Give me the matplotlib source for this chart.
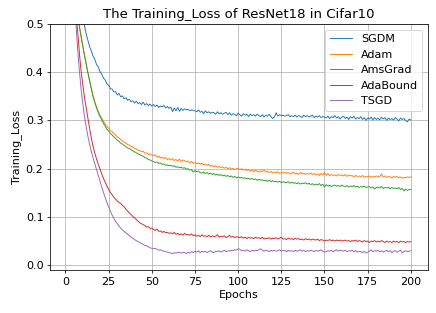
import numpy as np
import matplotlib
matplotlib.use("Agg")
import matplotlib.pyplot as plt

# training loss per epoch (1..200)
epochs = np.arange(1, 201)

sgdm = [
    1.55, 1.21, 1.01, 0.88, 0.78, 0.70, 0.645, 0.598, 0.558, 0.525,
    0.497, 0.479, 0.466, 0.453, 0.444, 0.433, 0.427, 0.416, 0.411, 0.401,
    0.396, 0.388, 0.384, 0.376, 0.373, 0.366, 0.365, 0.359, 0.360, 0.353,
    0.356, 0.349, 0.351, 0.345, 0.347, 0.342, 0.344, 0.339, 0.341, 0.336,
    0.340, 0.335, 0.337, 0.333, 0.338, 0.332, 0.335, 0.331, 0.334, 0.330,
    0.333, 0.329, 0.332, 0.327, 0.330, 0.328, 0.331, 0.326, 0.329, 0.325,
    0.328, 0.318, 0.326, 0.320, 0.327, 0.319, 0.325, 0.321, 0.324, 0.322,
    0.323, 0.320, 0.322, 0.321, 0.320, 0.318, 0.322, 0.317, 0.319, 0.314,
    0.320, 0.316, 0.318, 0.315, 0.317, 0.316, 0.313, 0.318, 0.314, 0.316,
    0.313, 0.315, 0.317, 0.312, 0.316, 0.311, 0.314, 0.313, 0.310, 0.315,
    0.312, 0.309, 0.314, 0.311, 0.313, 0.308, 0.313, 0.310, 0.312, 0.309,
    0.313, 0.310, 0.308, 0.312, 0.307, 0.311, 0.309, 0.313, 0.308, 0.304,
    0.307, 0.316, 0.309, 0.312, 0.310, 0.311, 0.309, 0.310, 0.312, 0.308,
    0.310, 0.308, 0.311, 0.307, 0.310, 0.309, 0.306, 0.311, 0.308, 0.310,
    0.307, 0.309, 0.311, 0.306, 0.309, 0.307, 0.310, 0.306, 0.308, 0.307,
    0.305, 0.309, 0.304, 0.308, 0.306, 0.310, 0.305, 0.308, 0.303, 0.307,
    0.309, 0.304, 0.307, 0.302, 0.308, 0.305, 0.309, 0.303, 0.306, 0.304,
    0.308, 0.302, 0.306, 0.300, 0.305, 0.303, 0.307, 0.301, 0.306, 0.302,
    0.305, 0.301, 0.307, 0.303, 0.306, 0.300, 0.305, 0.302, 0.304, 0.301,
    0.306, 0.303, 0.299, 0.305, 0.302, 0.304, 0.300, 0.297, 0.303, 0.301,
]

adam = [
    1.32, 1.01, 0.83, 0.71, 0.625, 0.565, 0.525, 0.497, 0.476, 0.456,
    0.437, 0.418, 0.400, 0.383, 0.367, 0.351, 0.339, 0.328, 0.319, 0.311,
    0.305, 0.298, 0.293, 0.287, 0.284, 0.279, 0.277, 0.273, 0.270, 0.266,
    0.264, 0.260, 0.258, 0.255, 0.253, 0.250, 0.249, 0.246, 0.245, 0.242,
    0.241, 0.238, 0.238, 0.235, 0.236, 0.232, 0.233, 0.229, 0.231, 0.228,
    0.227, 0.229, 0.224, 0.226, 0.222, 0.224, 0.221, 0.223, 0.219, 0.221,
    0.218, 0.221, 0.217, 0.219, 0.216, 0.220, 0.215, 0.218, 0.217, 0.214,
    0.216, 0.212, 0.215, 0.211, 0.213, 0.210, 0.212, 0.209, 0.211, 0.208,
    0.210, 0.207, 0.209, 0.205, 0.207, 0.204, 0.206, 0.203, 0.205, 0.202,
    0.204, 0.201, 0.203, 0.200, 0.202, 0.199, 0.201, 0.198, 0.200, 0.201,
    0.198, 0.200, 0.197, 0.199, 0.196, 0.198, 0.195, 0.197, 0.194, 0.197,
    0.195, 0.193, 0.196, 0.194, 0.197, 0.193, 0.195, 0.192, 0.194, 0.191,
    0.193, 0.191, 0.194, 0.190, 0.192, 0.191, 0.193, 0.190, 0.192, 0.189,
    0.191, 0.193, 0.189, 0.191, 0.188, 0.192, 0.189, 0.191, 0.188, 0.190,
    0.189, 0.191, 0.188, 0.190, 0.187, 0.189, 0.186, 0.190, 0.187, 0.192,
    0.186, 0.190, 0.185, 0.188, 0.186, 0.187, 0.185, 0.188, 0.186, 0.187,
    0.185, 0.188, 0.184, 0.187, 0.185, 0.186, 0.183, 0.186, 0.184, 0.185,
    0.183, 0.186, 0.182, 0.184, 0.183, 0.185, 0.182, 0.184, 0.183, 0.185,
    0.183, 0.184, 0.189, 0.183, 0.185, 0.182, 0.184, 0.183, 0.181, 0.184,
    0.182, 0.184, 0.181, 0.183, 0.180, 0.182, 0.181, 0.183, 0.182, 0.183,
]

amsgrad = [
    1.30, 0.99, 0.82, 0.70, 0.62, 0.56, 0.522, 0.495, 0.474, 0.454,
    0.434, 0.416, 0.398, 0.381, 0.365, 0.349, 0.337, 0.326, 0.316, 0.308,
    0.301, 0.294, 0.288, 0.282, 0.278, 0.273, 0.270, 0.266, 0.263, 0.259,
    0.257, 0.253, 0.251, 0.248, 0.246, 0.243, 0.242, 0.239, 0.237, 0.235,
    0.233, 0.231, 0.229, 0.227, 0.226, 0.223, 0.222, 0.219, 0.218, 0.216,
    0.215, 0.213, 0.214, 0.211, 0.212, 0.209, 0.210, 0.207, 0.208, 0.206,
    0.207, 0.205, 0.206, 0.203, 0.204, 0.202, 0.203, 0.201, 0.202, 0.199,
    0.200, 0.197, 0.198, 0.193, 0.196, 0.194, 0.195, 0.192, 0.191, 0.193,
    0.190, 0.192, 0.189, 0.191, 0.188, 0.190, 0.187, 0.189, 0.186, 0.188,
    0.185, 0.187, 0.184, 0.186, 0.183, 0.185, 0.182, 0.184, 0.181, 0.183,
    0.181, 0.182, 0.180, 0.181, 0.179, 0.180, 0.178, 0.180, 0.177, 0.179,
    0.176, 0.178, 0.176, 0.177, 0.175, 0.176, 0.174, 0.176, 0.173, 0.175,
    0.173, 0.174, 0.172, 0.174, 0.171, 0.173, 0.172, 0.171, 0.173, 0.170,
    0.172, 0.170, 0.171, 0.169, 0.171, 0.168, 0.170, 0.169, 0.171, 0.168,
    0.170, 0.167, 0.169, 0.166, 0.168, 0.167, 0.169, 0.165, 0.168, 0.162,
    0.167, 0.164, 0.166, 0.163, 0.165, 0.166, 0.164, 0.165, 0.163, 0.166,
    0.164, 0.163, 0.165, 0.162, 0.164, 0.163, 0.165, 0.162, 0.164, 0.161,
    0.163, 0.162, 0.164, 0.161, 0.162, 0.163, 0.160, 0.162, 0.158, 0.161,
    0.162, 0.160, 0.163, 0.159, 0.161, 0.160, 0.162, 0.158, 0.161, 0.159,
    0.160, 0.158, 0.161, 0.157, 0.159, 0.154, 0.158, 0.155, 0.157, 0.157,
]

adabound = [
    1.45, 1.06, 0.83, 0.68, 0.58, 0.52, 0.488, 0.442, 0.404, 0.375,
    0.348, 0.326, 0.304, 0.283, 0.263, 0.246, 0.232, 0.220, 0.209, 0.199,
    0.189, 0.180, 0.172, 0.164, 0.157, 0.151, 0.146, 0.141, 0.137, 0.133,
    0.130, 0.128, 0.124, 0.121, 0.116, 0.112, 0.108, 0.105, 0.101, 0.098,
    0.095, 0.091, 0.088, 0.086, 0.084, 0.082, 0.079, 0.080, 0.076, 0.077,
    0.074, 0.072, 0.075, 0.070, 0.071, 0.068, 0.070, 0.067, 0.068, 0.066,
    0.067, 0.065, 0.068, 0.064, 0.066, 0.063, 0.065, 0.062, 0.066, 0.063,
    0.064, 0.062, 0.065, 0.061, 0.063, 0.060, 0.062, 0.059, 0.063, 0.060,
    0.061, 0.059, 0.062, 0.058, 0.061, 0.059, 0.060, 0.063, 0.058, 0.060,
    0.059, 0.061, 0.057, 0.059, 0.062, 0.058, 0.060, 0.057, 0.059, 0.058,
    0.057, 0.059, 0.056, 0.058, 0.055, 0.058, 0.056, 0.057, 0.055, 0.058,
    0.056, 0.057, 0.055, 0.058, 0.054, 0.056, 0.055, 0.057, 0.054, 0.056,
    0.055, 0.057, 0.054, 0.056, 0.058, 0.054, 0.055, 0.053, 0.056, 0.054,
    0.055, 0.053, 0.056, 0.054, 0.055, 0.053, 0.054, 0.052, 0.055, 0.053,
    0.054, 0.052, 0.054, 0.053, 0.052, 0.054, 0.051, 0.053, 0.052, 0.050,
    0.052, 0.051, 0.053, 0.051, 0.052, 0.050, 0.052, 0.051, 0.052, 0.050,
    0.051, 0.052, 0.050, 0.051, 0.049, 0.051, 0.050, 0.052, 0.049, 0.051,
    0.050, 0.048, 0.051, 0.049, 0.050, 0.047, 0.050, 0.049, 0.051, 0.048,
    0.050, 0.048, 0.051, 0.049, 0.047, 0.050, 0.048, 0.049, 0.047, 0.050,
    0.048, 0.049, 0.047, 0.050, 0.048, 0.049, 0.047, 0.049, 0.048, 0.049,
]

tsgd = [
    1.40, 1.00, 0.78, 0.64, 0.55, 0.505, 0.452, 0.405, 0.367, 0.336,
    0.309, 0.287, 0.267, 0.250, 0.235, 0.222, 0.210, 0.198, 0.186, 0.174,
    0.162, 0.151, 0.140, 0.130, 0.121, 0.112, 0.104, 0.097, 0.091, 0.086,
    0.081, 0.077, 0.073, 0.070, 0.067, 0.064, 0.061, 0.058, 0.056, 0.053,
    0.051, 0.049, 0.047, 0.045, 0.043, 0.041, 0.040, 0.038, 0.036, 0.035,
    0.034, 0.035, 0.033, 0.031, 0.032, 0.030, 0.029, 0.028, 0.027, 0.026,
    0.025, 0.024, 0.026, 0.025, 0.027, 0.026, 0.025, 0.027, 0.026, 0.024,
    0.027, 0.025, 0.028, 0.026, 0.029, 0.027, 0.030, 0.026, 0.029, 0.027,
    0.029, 0.026, 0.028, 0.030, 0.027, 0.026, 0.029, 0.028, 0.030, 0.027,
    0.029, 0.031, 0.028, 0.030, 0.029, 0.031, 0.030, 0.032, 0.031, 0.034,
    0.033, 0.030, 0.031, 0.029, 0.032, 0.030, 0.028, 0.031, 0.029, 0.031,
    0.030, 0.032, 0.034, 0.031, 0.029, 0.031, 0.030, 0.028, 0.031, 0.029,
    0.031, 0.029, 0.030, 0.032, 0.029, 0.031, 0.030, 0.028, 0.031, 0.029,
    0.030, 0.028, 0.031, 0.029, 0.030, 0.032, 0.029, 0.031, 0.028, 0.030,
    0.029, 0.031, 0.030, 0.028, 0.031, 0.029, 0.030, 0.032, 0.029, 0.027,
    0.028, 0.030, 0.029, 0.031, 0.028, 0.030, 0.032, 0.029, 0.031, 0.030,
    0.029, 0.031, 0.028, 0.030, 0.029, 0.031, 0.028, 0.030, 0.027, 0.029,
    0.028, 0.026, 0.029, 0.025, 0.027, 0.029, 0.032, 0.028, 0.030, 0.029,
    0.031, 0.028, 0.030, 0.027, 0.029, 0.031, 0.028, 0.030, 0.026, 0.029,
    0.030, 0.027, 0.029, 0.031, 0.026, 0.028, 0.030, 0.028, 0.029, 0.030,
]

series = [("SGDM", sgdm), ("Adam", adam), ("AmsGrad", amsgrad),
          ("AdaBound", adabound), ("TSGD", tsgd)]

plt.rcParams["font.size"] = 11.8

fig, ax = plt.subplots(figsize=(436 / 68, 313 / 68), dpi=68)
fig.subplots_adjust(left=0.1147, right=0.9817, top=0.9233, bottom=0.1374)

for name, vals in series:
    ax.plot(epochs, vals, label=name, linewidth=1.0)

ax.set_ylim(-0.01, 0.5)
ax.set_xticks(np.arange(0, 201, 25))
ax.set_yticks([0.0, 0.1, 0.2, 0.3, 0.4, 0.5])
ax.set_title("The Training_Loss of ResNet18 in Cifar10", fontsize=14)
ax.set_xlabel("Epochs")
ax.set_ylabel("Training_Loss")
ax.grid(True)
ax.legend(loc="upper right")

fig.savefig("out.png", dpi=68)
